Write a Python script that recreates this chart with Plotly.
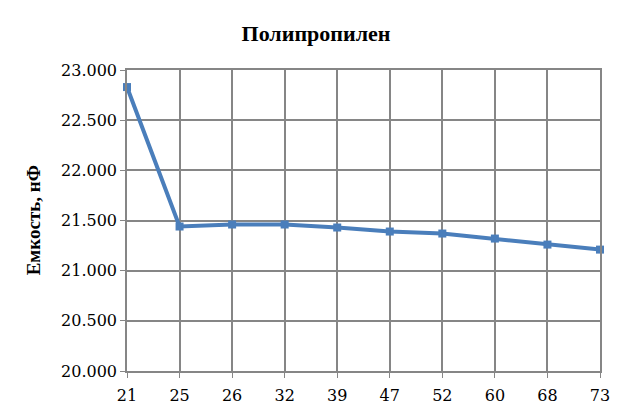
import plotly.graph_objects as go

temps = ["21", "25", "26", "32", "39", "47", "52", "60", "68", "73"]
capacitance = [22.83, 21.44, 21.46, 21.46, 21.43, 21.39, 21.37, 21.32, 21.26, 21.21]

serif = "Liberation Serif, Times New Roman, serif"
tick_font = "DejaVu Serif"
grid = "#868686"

fig = go.Figure()
fig.add_trace(
    go.Scatter(
        x=temps,
        y=capacitance,
        mode="lines+markers",
        line={"color": "#4a7ebb", "width": 4},
        marker={"symbol": "square", "size": 8, "color": "#4a7ebb"},
        cliponaxis=False,
        showlegend=False,
    )
)

# page body adds 8px, so the figure is a bit smaller than the window
fig.update_layout(
    width=616,
    height=402,
    margin={"l": 119, "r": 24, "t": 62, "b": 39},
    paper_bgcolor="white",
    plot_bgcolor="white",
    font={"family": tick_font, "size": 16, "color": "black"},
    title={
        "text": "<b>Полипропилен</b>",
        "x": 0.5,
        "xanchor": "center",
        "y": 0.938,
        "yanchor": "middle",
        "font": {"family": serif, "size": 22, "color": "black"},
    },
    annotations=[
        {
            "text": "<b>Емкость, нФ</b>",
            "textangle": -90,
            "xref": "paper",
            "yref": "paper",
            "x": -0.197,
            "y": 0.5,
            "xanchor": "center",
            "yanchor": "middle",
            "showarrow": False,
            "font": {"family": serif, "size": 19, "color": "black"},
        }
    ],
)
fig.update_xaxes(
    type="category",
    range=[0, 9],
    automargin=False,
    showgrid=True,
    gridcolor=grid,
    gridwidth=1.5,
    showline=True,
    linecolor=grid,
    linewidth=1.5,
    mirror=True,
    ticks="outside",
    ticklen=5,
    tickcolor=grid,
    ticklabelstandoff=4,
    tickfont={"family": tick_font, "size": 16},
)
fig.update_yaxes(
    range=[20, 23],
    dtick=0.5,
    tickformat=".3f",
    automargin=False,
    showgrid=True,
    gridcolor=grid,
    gridwidth=1.5,
    showline=True,
    linecolor=grid,
    linewidth=1.5,
    mirror=True,
    ticks="outside",
    ticklen=5,
    tickcolor=grid,
    zeroline=False,
    tickfont={"family": tick_font, "size": 16},
)

fig.write_html("out.html")
